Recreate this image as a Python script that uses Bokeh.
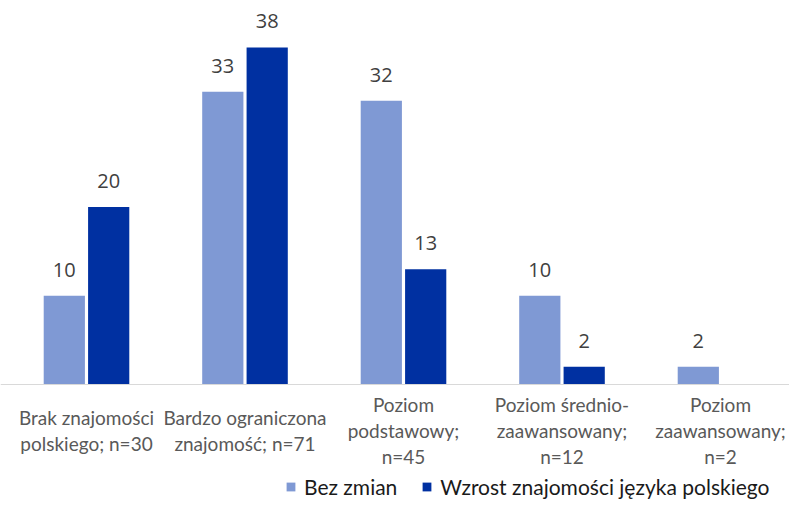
from bokeh.plotting import figure
from bokeh.models import ColumnDataSource, Range1d, Legend, LegendItem, Span
from bokeh.core.properties import value
from bokeh.embed import file_html
from bokeh.resources import INLINE

categories = ["Brak znajomości\npolskiego; n=30",
              "Bardzo ograniczona\nznajomość; n=71",
              "Poziom\npodstawowy;\nn=45",
              "Poziom średnio-\nzaawansowany;\nn=12",
              "Poziom\nzaawansowany;\nn=2"]
series_names = ["Bez zmian", "Wzrost znajomości języka polskiego"]
bez_zmian = [10, 33, 32, 10, 2]
wzrost = [20, 38, 13, 2, None]
colors = ["#7F99D4", "#0030A1"]

idx = list(range(len(categories)))
offset = 0.14
bw = 0.26

W, H = 789, 503
base_px = 384          # baseline from top
px_per_unit = 8.87
cat_px = 158.5
first_center = 86

x0 = -first_center / cat_px
x1 = x0 + W / cat_px
y1 = base_px / px_per_unit
y0 = -(H - base_px) / px_per_unit

p = figure(width=W, height=H, output_backend="svg", toolbar_location=None,
           x_range=Range1d(x0, x1), y_range=Range1d(y0, y1),
           min_border=0)
p.outline_line_color = None
p.grid.visible = False
p.axis.visible = False

renderers = []
for vals, off, col in [(bez_zmian, -offset, colors[0]), (wzrost, offset, colors[1])]:
    xs = [i + off for i, v in zip(idx, vals) if v is not None]
    ys = [v for v in vals if v is not None]
    src = ColumnDataSource(dict(x=xs, top=ys, lab=[str(v) for v in ys]))
    r = p.vbar(x="x", top="top", bottom=0, width=bw, source=src, fill_color=col, line_color=None)
    renderers.append(r)
    p.text(x="x", y="top", text="lab", source=src, text_align="center", text_baseline="middle",
           y_offset=-26, text_font_size="20px", text_color="#404040",
           text_font=value("Open Sans"))

# category axis line
p.add_layout(Span(location=0, dimension="width", line_color="#D9D9D9", line_width=1))

# category labels
csrc = ColumnDataSource(dict(x=idx, y=[0] * len(idx), t=categories))
p.text(x="x", y="y", text="t", source=csrc, text_align="center", text_baseline="middle",
       y_offset=46, text_font_size="19px", text_color="#595959",
       text_font=value("Lato"), text_line_height=1.15)

legend = Legend(items=[LegendItem(label=series_names[0], renderers=[renderers[0]]),
                       LegendItem(label=series_names[1], renderers=[renderers[1]])],
                orientation="horizontal", location=(285, 4),
                glyph_width=11, glyph_height=11, label_standoff=8, spacing=24,
                padding=0, margin=0, border_line_color=None, background_fill_alpha=0,
                label_text_font="Lato", label_text_font_size="21px", label_text_color="#1A1A1A")
p.add_layout(legend, "center")

open("out.html", "w").write(file_html(p, INLINE))
